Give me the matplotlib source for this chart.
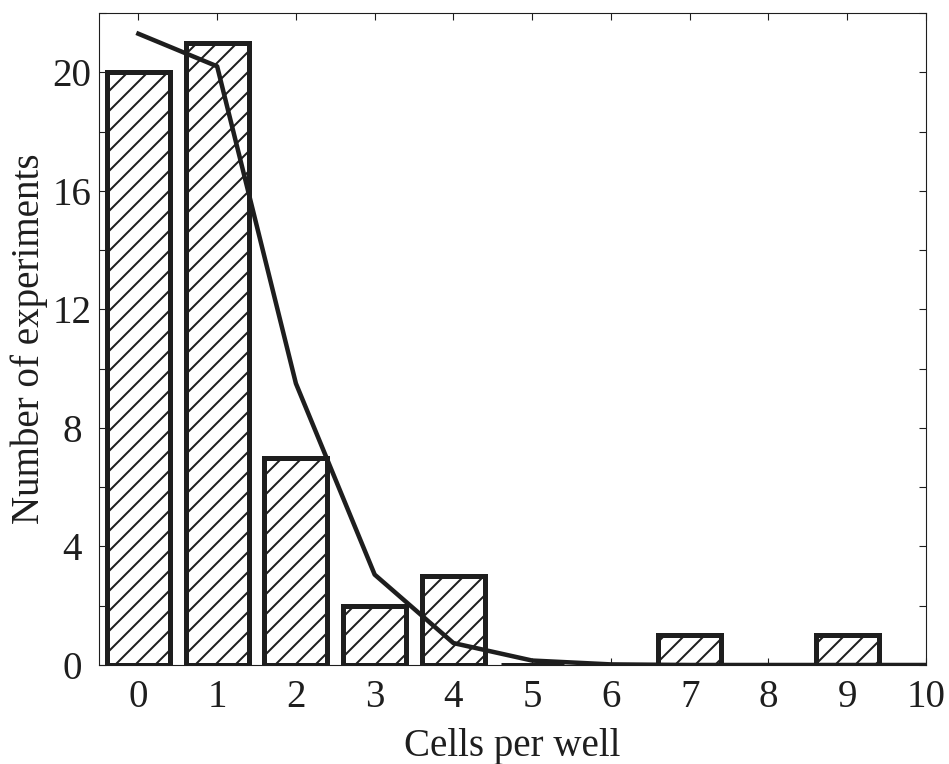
import matplotlib
matplotlib.use("Agg")
import matplotlib.pyplot as plt
from matplotlib.ticker import MultipleLocator

# data
cells = [0, 1, 2, 3, 4, 5, 6, 7, 8, 9, 10]
counts = [20, 21, 7, 2, 3, 0, 0, 1, 0, 1, 0]
fit = [21.3, 20.2, 9.5, 3.05, 0.74, 0.15, 0.02, 0.0, 0.0, 0.0, 0.0]

# dpi 120 so the hatch spacing (6 lines per inch) comes out ~20 px
DPI = 120


def px(v):
    """pixels -> points at DPI"""
    return v * 72 / DPI


ink = "#1e1e1e"
plt.rcParams["font.family"] = ["Liberation Serif", "DejaVu Serif"]
plt.rcParams["hatch.linewidth"] = px(2.0)
plt.rcParams["hatch.color"] = ink

fig = plt.figure(figsize=(949 / DPI, 764 / DPI), dpi=DPI)
ax = fig.add_axes([99 / 949, 1 - 665 / 764, 827 / 949, 652 / 764])

ax.bar(cells, counts, width=0.8, facecolor="white", edgecolor=ink,
       linewidth=px(5), hatch="//", zorder=2)
ax.plot(cells, fit, color=ink, linewidth=px(4.5), zorder=3)

ax.set_xlim(-0.5, 10)
ax.set_ylim(0, 22)
ax.set_xticks(cells)
ax.yaxis.set_major_locator(MultipleLocator(4))
ax.yaxis.set_minor_locator(MultipleLocator(2))
ax.tick_params(which="both", direction="in", top=True, right=True,
               length=px(7), width=px(1.1), colors=ink, labelsize=px(39))
ax.tick_params(axis="x", pad=px(14))
ax.tick_params(axis="y", pad=px(27))
for lab in ax.get_yticklabels():
    lab.set_horizontalalignment("center")
for s in ax.spines.values():
    s.set_linewidth(px(1.1))
    s.set_color(ink)

ax.set_xlabel("Cells per well", fontsize=px(39), color=ink, labelpad=px(12))
ax.set_ylabel("Number of experiments", fontsize=px(39), color=ink,
              labelpad=px(4))

fig.savefig("out.png", dpi=DPI)
